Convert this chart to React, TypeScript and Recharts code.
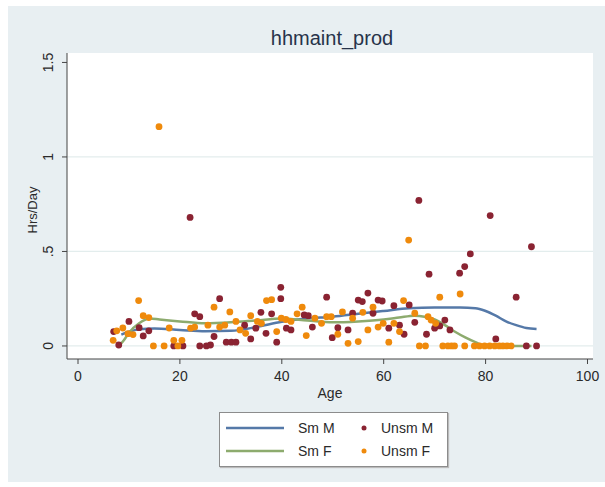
import React from "react";
import {
  ComposedChart,
  Line,
  Scatter,
  XAxis,
  YAxis,
  CartesianGrid,
  ReferenceLine,
  Label,
} from "recharts";

// ---- Data ----
const unsmMAge = [7, 8, 10, 12, 12.8, 13.9, 18.8, 20.6, 22, 22.9, 23.9, 23.9, 25.2, 26, 26.7, 27.8, 29.1, 30.1, 31, 32.7, 33.9, 34.9, 35.9, 36.9, 38, 39, 39.8, 39.8, 40.9, 41.8, 44.4, 45.2, 46, 48.8, 49.9, 51, 53, 53.9, 55, 55.8, 56.9, 57.9, 58.9, 59.7, 61, 62, 63.1, 64, 65, 66.1, 66.9, 68.4, 68.9, 70, 71, 72, 73, 74.9, 75.9, 77, 80.9, 82, 86, 88, 89, 90];
const unsmMVal = [0.076, 0.005, 0.13, 0.097, 0.053, 0.08, 0, 0, 0.68, 0.17, 0.155, 0, 0, 0.005, 0.05, 0.25, 0.02, 0.02, 0.02, 0.11, 0.037, 0.094, 0.178, 0.067, 0.17, 0.02, 0.31, 0.25, 0.094, 0.085, 0.164, 0.16, 0.1, 0.258, 0.044, 0.097, 0.085, 0.173, 0.243, 0.235, 0.28, 0.173, 0.243, 0.238, 0.094, 0.213, 0.11, 0.062, 0.217, 0.125, 0.77, 0.062, 0.38, 0.094, 0.106, 0.137, 0.085, 0.385, 0.42, 0.487, 0.69, 0.037, 0.258, 0, 0.525, 0];

const unsmFAge = [6.9, 7.6, 8.8, 9.8, 10.8, 11.9, 12.8, 13.9, 14.8, 15.9, 16.9, 17.9, 18.8, 19.6, 20.4, 22.1, 22.9, 25.5, 26.7, 27.8, 28.8, 29.8, 31, 31.8, 32.9, 33.9, 35.2, 36, 37, 38, 39, 39.9, 40.8, 41.8, 43, 44, 44.8, 46.5, 47.8, 48.8, 49.7, 51, 51.9, 53, 53.9, 55, 55.9, 56.9, 57.9, 58.9, 59.9, 61, 62, 63.1, 63.9, 64.9, 66.1, 67, 68.2, 68.7, 69.3, 70.2, 71, 71.6, 72.6, 73.3, 73.9, 75, 75.9, 77.8, 78.8, 79.8, 80.8, 81.8, 82.7, 83.4, 84.2, 85];
const unsmFVal = [0.03, 0.08, 0.095, 0.065, 0.06, 0.24, 0.16, 0.15, 0, 1.16, 0, 0.095, 0.03, 0, 0.03, 0.094, 0.1, 0.11, 0.205, 0.1, 0.11, 0.18, 0.13, 0.085, 0.067, 0.16, 0.13, 0.12, 0.24, 0.245, 0.076, 0.147, 0.14, 0.13, 0.17, 0.205, 0.055, 0.147, 0.12, 0.155, 0.155, 0.062, 0.18, 0.014, 0.147, 0.023, 0.178, 0.085, 0.205, 0.1, 0.12, 0.02, 0.12, 0.076, 0.24, 0.56, 0.173, 0, 0, 0.155, 0.137, 0.12, 0.258, 0, 0, 0, 0, 0.275, 0, 0, 0, 0, 0, 0, 0, 0, 0, 0];

const smMAge = [8.5, 10, 12, 15, 20, 25, 30, 35, 40, 45, 50, 55, 60, 65, 70, 75, 78, 80, 82, 84, 86, 88, 90];
const smMVal = [0.06, 0.075, 0.088, 0.093, 0.085, 0.078, 0.08, 0.1, 0.128, 0.145, 0.155, 0.17, 0.185, 0.2, 0.203, 0.203, 0.2, 0.185, 0.16, 0.13, 0.11, 0.095, 0.09];

const smFAge = [8, 9, 10, 12, 14, 16, 20, 25, 30, 35, 40, 45, 50, 55, 60, 63, 66, 68, 70, 72, 74, 76, 78, 80, 85, 89];
const smFVal = [0, 0.03, 0.07, 0.12, 0.145, 0.14, 0.13, 0.12, 0.125, 0.135, 0.145, 0.135, 0.125, 0.13, 0.14, 0.15, 0.16, 0.155, 0.14, 0.11, 0.075, 0.045, 0.02, 0, 0, 0];

const xTicks = [0, 20, 40, 60, 80, 100];
const yTicks = [0, 0.5, 1, 1.5];
const yTickLabels = ["0", ".5", "1", "1.5"];
const gridValues = [0, 0.5, 1];

const zip = (a: number[], b: number[]) => a.map((x, i) => ({ age: x, v: b[i] }));
const unsmM = zip(unsmMAge, unsmMVal);
const unsmF = zip(unsmFAge, unsmFVal);
const smM = zip(smMAge, smMVal);
const smF = zip(smFAge, smFVal);

const C_BLUE = "#5579a8";
const C_GREEN = "#8dab6e";
const C_MAROON = "#8a2332";
const C_ORANGE = "#ef8a0c";
const FONT = "'Liberation Sans', Arial, sans-serif";
const TEXT = "#2a2a2a";

const dot = (color: string) => (props: any) => {
  if (props.cx == null || props.cy == null) return <g />;
  return <circle cx={props.cx} cy={props.cy} r={3.4} fill={color} />;
};

const YTick = (props: any) => {
  const { x, y, payload } = props;
  const idx = yTicks.indexOf(payload.value);
  const label = idx >= 0 ? yTickLabels[idx] : String(payload.value);
  const x0 = x;
  return (
    <text
      x={x0}
      y={y}
      transform={`rotate(-90, ${x0}, ${y})`}
      textAnchor="middle"
      fontSize={14}
      fontFamily={FONT}
      fill={TEXT}
    >
      {label}
    </text>
  );
};

export default function App() {
  return (
    <div
      style={{
        position: "absolute",
        left: 8,
        top: 6,
        width: 597,
        height: 476,
        background: "#e8eff2",
        fontFamily: FONT,
      }}
    >
      <div
        style={{
          position: "absolute",
          left: 0,
          width: 648,
          top: 22,
          textAlign: "center",
          fontSize: 20,
          color: "#27334a",
          lineHeight: "20px",
        }}
      >
        hhmaint_prod
      </div>
      <ComposedChart
        width={597}
        height={476}
        margin={{ top: 47, right: 12, left: 19, bottom: 93 }}
        style={{ position: "absolute", left: 0, top: 0 }}
      >
        <CartesianGrid horizontal={false} vertical={false} fill="#ffffff" />
        {gridValues.map((g) => (
          <ReferenceLine key={g} y={g} stroke="#e3eded" strokeWidth={1.2} />
        ))}
        <XAxis
          type="number"
          dataKey="age"
          domain={[-2.16, 101.08]}
          allowDataOverflow
          ticks={xTicks}
          height={30}
          tickSize={5}
          tickMargin={7}
          stroke="#444"
          tick={{ fontSize: 14, fill: TEXT, fontFamily: FONT }}
        >
          <Label
            value="Age"
            position="bottom"
            offset={-1}
            style={{ fontSize: 14, fill: TEXT, fontFamily: FONT }}
          />
        </XAxis>
        <YAxis
          type="number"
          dataKey="v"
          domain={[-0.069, 1.55]}
          allowDataOverflow
          ticks={yTicks}
          width={40}
          tickSize={5}
          tickMargin={9}
          stroke="#444"
          tick={<YTick />}
        >
          <Label
            content={() => (
              <text
                x={29}
                y={204}
                transform="rotate(-90, 29, 204)"
                textAnchor="middle"
                fontSize={13}
                fontFamily={FONT}
                fill={TEXT}
              >
                Hrs/Day
              </text>
            )}
          />
        </YAxis>
        <Line
          data={smM}
          dataKey="v"
          type="monotone"
          stroke={C_BLUE}
          strokeWidth={2.5}
          dot={false}
          activeDot={false}
          isAnimationActive={false}
        />
        <Scatter
          data={unsmM}
          dataKey="v"
          shape={dot(C_MAROON)}
          isAnimationActive={false}
        />
        <Line
          data={smF}
          dataKey="v"
          type="monotone"
          stroke={C_GREEN}
          strokeWidth={2.5}
          dot={false}
          activeDot={false}
          isAnimationActive={false}
        />
        <Scatter
          data={unsmF}
          dataKey="v"
          shape={dot(C_ORANGE)}
          isAnimationActive={false}
        />
      </ComposedChart>
      <div
        style={{
          position: "absolute",
          left: 211,
          top: 406,
          width: 227,
          height: 53,
          background: "#ffffff",
          border: "1px solid #8c8c8c",
          boxShadow: "1px 1px 1px #bbb",
          fontSize: 14,
          color: TEXT,
        }}
      >
        <svg width={227} height={53} style={{ position: "absolute", left: 0, top: 0 }}>
          <line x1={6} x2={64} y1={15} y2={15} stroke={C_BLUE} strokeWidth={2.5} />
          <line x1={6} x2={64} y1={38} y2={38} stroke={C_GREEN} strokeWidth={2.5} />
          <circle cx={144} cy={15} r={2.5} fill={C_MAROON} />
          <circle cx={144} cy={38} r={2.5} fill={C_ORANGE} />
          <text x={78} y={20} fontSize={14} fontFamily={FONT} fill={TEXT}>Sm M</text>
          <text x={78} y={43} fontSize={14} fontFamily={FONT} fill={TEXT}>Sm F</text>
          <text x={161} y={20} fontSize={14} fontFamily={FONT} fill={TEXT}>Unsm M</text>
          <text x={161} y={43} fontSize={14} fontFamily={FONT} fill={TEXT}>Unsm F</text>
        </svg>
      </div>
    </div>
  );
}
